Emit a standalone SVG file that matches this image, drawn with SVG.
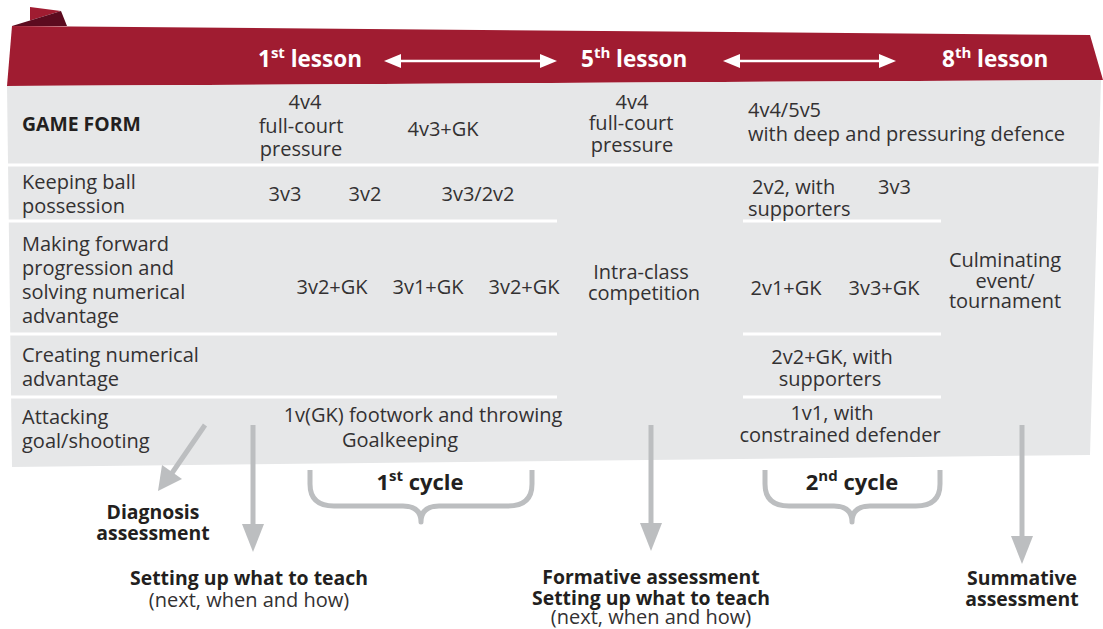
<svg xmlns="http://www.w3.org/2000/svg" width="1103" height="629" viewBox="0 0 1103 629">
<defs>
<style>
.hd{font-family:"Open Sans","Noto Sans",sans-serif;font-weight:700;font-size:22.5px;fill:#ffffff}
.sup{font-size:15px}
.t{font-family:"Open Sans","Noto Sans",sans-serif;font-size:20px;fill:#333132}
.b{font-family:"Open Sans","Noto Sans",sans-serif;font-size:19.4px;font-weight:700;fill:#231f20}
.cy{font-family:"Open Sans","Noto Sans",sans-serif;font-size:22px;font-weight:700;fill:#231f20}
.m{text-anchor:middle}
.sep{stroke:#ffffff;stroke-width:3;fill:none}
.wa{stroke:#ffffff;stroke-width:2.5;fill:none}
.ga{stroke:#bcbec0;stroke-width:5;fill:none}
.gh{fill:#bcbec0}
.br{stroke:#bcbec0;stroke-width:5;fill:none;stroke-linejoin:round}
</style>
</defs>
<g id="banner">
<polygon points="12,26 1090,35 1103,80 7,86" fill="#a01c31"/>
<polygon points="30,7 61,11 30,20.5" fill="#a01c31"/>
<polygon points="12,26 61,11 67,26" fill="#5c0b1f"/>
<text class="hd" x="258" y="67">1<tspan class="sup" dy="-9">st</tspan><tspan dy="9"> lesson</tspan></text>
<text class="hd" x="581" y="67">5<tspan class="sup" dy="-9">th</tspan><tspan dy="9"> lesson</tspan></text>
<text class="hd" x="942" y="67">8<tspan class="sup" dy="-9">th</tspan><tspan dy="9"> lesson</tspan></text>
</g>
<g id="connectors">
<line class="wa" x1="398" y1="61" x2="542" y2="61"/>
<polygon points="384,61 401,54 401,68" fill="#ffffff"/>
<polygon points="557,61 540,54 540,68" fill="#ffffff"/>
<line class="wa" x1="737" y1="61" x2="882" y2="61"/>
<polygon points="723,61 740,54 740,68" fill="#ffffff"/>
<polygon points="896,61 879,54 879,68" fill="#ffffff"/>
</g>
<g id="table">
<polygon points="7,86 1101,80 1090,455 12,467" fill="#e6e7e8"/>
<line class="sep" x1="7" y1="165" x2="1100" y2="165"/>
<line class="sep" x1="8" y1="221" x2="557" y2="221"/>
<line class="sep" x1="743" y1="221" x2="941" y2="221"/>
<line class="sep" x1="9" y1="334" x2="557" y2="334"/>
<line class="sep" x1="743" y1="334" x2="941" y2="334"/>
<line class="sep" x1="10" y1="397" x2="557" y2="397"/>
<line class="sep" x1="743" y1="397" x2="941" y2="397"/>
</g>
<g id="row-gameform">
<text class="b" x="22" y="131">GAME FORM</text>
<text class="t m" x="305" y="109">4v4</text>
<text class="t m" x="301" y="133">full-court</text>
<text class="t m" x="301" y="156">pressure</text>
<text class="t m" x="443" y="136">4v3+GK</text>
<text class="t m" x="632" y="109">4v4</text>
<text class="t m" x="631" y="130">full-court</text>
<text class="t m" x="632" y="152">pressure</text>
<text class="t" x="748" y="117">4v4/5v5</text>
<text class="t" x="748" y="141">with deep and pressuring defence</text>
</g>
<g id="row-keeping">
<text class="t" x="22" y="189">Keeping ball</text>
<text class="t" x="22" y="213">possession</text>
<text class="t m" x="285" y="201">3v3</text>
<text class="t m" x="365" y="201">3v2</text>
<text class="t m" x="478" y="201">3v3/2v2</text>
<text class="t" x="752" y="194">2v2, with</text>
<text class="t" x="748" y="216">supporters</text>
<text class="t" x="878" y="194">3v3</text>
</g>
<g id="row-forward">
<text class="t" x="22" y="251">Making forward</text>
<text class="t" x="22" y="275">progression and</text>
<text class="t" x="22" y="299">solving numerical</text>
<text class="t" x="22" y="323">advantage</text>
<text class="t m" x="332" y="294">3v2+GK</text>
<text class="t m" x="428" y="294">3v1+GK</text>
<text class="t m" x="524" y="294">3v2+GK</text>
<text class="t m" x="786" y="295">2v1+GK</text>
<text class="t m" x="884" y="295">3v3+GK</text>
</g>
<g id="intra-class">
<text class="t m" x="641" y="279">Intra-class</text>
<text class="t m" x="644" y="300">competition</text>
</g>
<g id="culminating">
<text class="t m" x="1005" y="267">Culminating</text>
<text class="t m" x="1005" y="288">event/</text>
<text class="t m" x="1005" y="308">tournament</text>
</g>
<g id="row-creating">
<text class="t" x="22" y="362">Creating numerical</text>
<text class="t" x="22" y="386">advantage</text>
<text class="t m" x="832" y="364">2v2+GK, with</text>
<text class="t m" x="830" y="386">supporters</text>
</g>
<g id="row-attacking">
<text class="t" x="22" y="424">Attacking</text>
<text class="t" x="22" y="448">goal/shooting</text>
<text class="t m" x="423" y="422">1v(GK) footwork and throwing</text>
<text class="t m" x="400" y="447">Goalkeeping</text>
<text class="t m" x="832" y="420">1v1, with</text>
<text class="t m" x="840" y="442">constrained defender</text>
</g>
<g id="assessment-arrows">
<line class="ga" x1="205" y1="425" x2="170" y2="476"/>
<polygon points="158,491 162,465 182,479" class="gh"/>
<line class="ga" x1="253" y1="425" x2="253" y2="528"/>
<polygon points="242,524 264,524 253,552" class="gh"/>
<line class="ga" x1="651" y1="425" x2="651" y2="527"/>
<polygon points="640,523 662,523 651,551" class="gh"/>
<line class="ga" x1="1022" y1="425" x2="1022" y2="540"/>
<polygon points="1011,536 1033,536 1022,564" class="gh"/>
</g>
<g id="cycle1">
<path class="br" d="M310,470 L310,484 Q310,506 334,506 L403,506 Q421,506 421,522 Q421,506 439,506 L508,506 Q532,506 532,484 L532,470"/>
<text class="cy m" x="420" y="490">1<tspan class="sup" dy="-9">st</tspan><tspan dy="9"> cycle</tspan></text>
</g>
<g id="cycle2">
<path class="br" d="M765,470 L765,484 Q765,506 789,506 L834,506 Q852,506 852,522 Q852,506 870,506 L916,506 Q940,506 940,484 L940,470"/>
<text class="cy m" x="852" y="490">2<tspan class="sup" dy="-9">nd</tspan><tspan dy="9"> cycle</tspan></text>
</g>
<g id="diagnosis">
<text class="b m" x="153" y="519">Diagnosis</text>
<text class="b m" x="153" y="540">assessment</text>
</g>
<g id="setting-up">
<text class="b m" x="249" y="585">Setting up what to teach</text>
<text class="t m" x="249" y="607">(next, when and how)</text>
</g>
<g id="formative">
<text class="b m" x="651" y="584">Formative assessment</text>
<text class="b m" x="651" y="605">Setting up what to teach</text>
<text class="t m" x="651" y="624">(next, when and how)</text>
</g>
<g id="summative">
<text class="b m" x="1022" y="585">Summative</text>
<text class="b m" x="1022" y="606">assessment</text>
</g>
</svg>
